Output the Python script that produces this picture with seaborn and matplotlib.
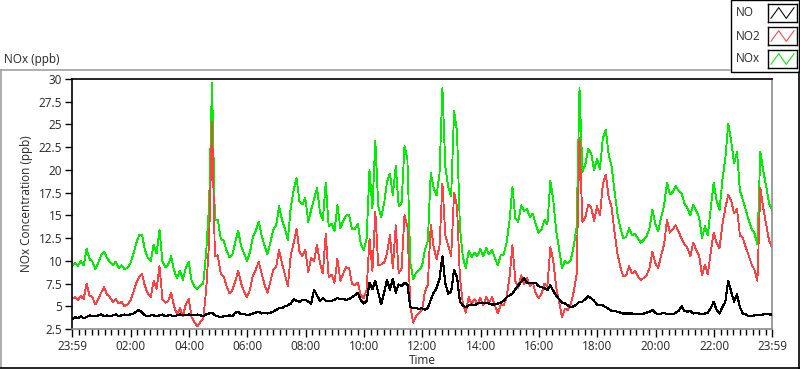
import numpy as np
import pandas as pd
import seaborn as sns
import matplotlib
matplotlib.use("Agg")
from matplotlib import pyplot as plt
from matplotlib.lines import Line2D
from matplotlib.patches import Rectangle

# sample times, minutes after 23:59 (one reading every 6 minutes)
minutes = np.arange(0, 1441, 6)

no2_ppb = [
    5.8, 6.0, 5.7, 6.1, 5.8, 7.5, 6.2, 6.0, 5.2, 5.8, 6.5, 7.1, 6.3, 6.0, 5.5, 5.8, 5.3, 5.5, 5.0, 5.2,
    5.6, 6.5, 7.5, 8.2, 8.6, 7.2, 6.4, 6.0, 7.8, 6.9, 9.4, 5.8, 5.4, 5.6, 6.5, 5.0, 4.1, 4.8, 3.9, 5.2, 5.8,
    3.8, 3.2, 2.8, 3.3, 3.6, 6.8, 12.0, 25.3, 10.5, 10.6, 8.6, 8.3, 7.2, 6.4, 6.8, 7.8, 8.9, 7.5, 6.6, 6.0,
    6.8, 8.4, 9.0, 9.9, 8.6, 7.4, 6.5, 7.7, 9.0, 9.3, 11.2, 9.7, 8.5, 7.2, 10.6, 12.0, 13.5, 11.0, 10.5, 11.2,
    8.8, 10.3, 10.0, 11.8, 9.8, 8.6, 13.0, 8.2, 8.5, 7.6, 10.2, 7.8, 8.6, 9.3, 9.2, 7.5, 7.3, 7.6, 6.2, 5.9,
    6.8, 12.4, 8.9, 15.4, 9.5, 9.6, 9.8, 10.8, 12.8, 9.2, 13.9, 8.6, 9.2, 15.0, 13.8, 4.9, 3.2, 3.9, 4.3, 4.6,
    6.6, 7.4, 14.0, 11.5, 10.2, 11.6, 18.5, 12.8, 11.7, 10.5, 17.5, 16.0, 8.2, 5.3, 4.3, 6.0, 5.2, 5.8, 5.2, 5.9,
    5.1, 6.0, 5.4, 6.0, 5.1, 4.2, 5.2, 5.1, 6.0, 8.2, 11.7, 7.8, 7.0, 8.4, 7.4, 8.1, 7.2, 7.6, 6.4,
    5.9, 6.4, 7.5, 7.2, 11.5, 10.0, 7.1, 5.5, 3.8, 4.7, 4.6, 5.2, 6.6, 8.5, 23.5, 14.3, 14.8, 16.2, 15.9, 14.4,
    16.0, 15.0, 18.4, 19.5, 17.0, 15.9, 13.2, 10.8, 9.3, 8.3, 8.4, 9.4, 8.6, 8.9, 8.3, 7.9, 8.1, 8.4, 9.2, 11.0,
    9.7, 9.2, 10.6, 11.8, 14.5, 13.1, 13.5, 13.9, 13.2, 12.4, 11.8, 11.4, 10.5, 12.0, 11.2, 10.6, 8.4, 9.6, 8.5, 11.0,
    13.1, 12.0, 11.4, 14.0, 15.8, 17.3, 16.6, 15.2, 15.7, 12.8, 12.5, 11.5, 10.6, 9.6, 9.0, 7.8, 18.0, 15.8, 14.0, 12.2, 11.5,
]

no_ppb = [
    3.6, 3.8, 3.7, 3.9, 3.7, 3.8, 4.0, 3.9, 3.9, 4.0, 4.1, 3.9, 4.0, 3.9, 4.0, 4.1, 3.9, 4.0, 4.1, 4.0,
    4.1, 4.2, 4.4, 4.6, 4.3, 4.0, 3.9, 4.0, 4.0, 3.9, 4.0, 4.1, 3.9, 4.0, 4.0, 3.9, 4.0, 4.1, 4.0, 4.0, 4.1,
    4.0, 4.0, 4.1, 4.0, 3.9, 4.1, 4.2, 4.3, 4.0, 3.9, 3.8, 3.9, 3.9, 4.0, 3.9, 4.3, 4.4, 4.1, 4.2, 4.0,
    4.1, 4.2, 4.3, 4.4, 4.2, 4.3, 4.2, 4.3, 4.4, 4.6, 4.8, 4.8, 5.0, 5.1, 5.3, 5.8, 5.6, 5.5, 5.7, 5.7,
    5.5, 5.3, 6.8, 6.2, 5.6, 5.9, 5.6, 5.6, 5.6, 5.7, 5.9, 5.8, 5.8, 5.7, 5.8, 6.0, 6.2, 6.5, 5.7, 5.3,
    5.6, 7.6, 6.9, 7.8, 6.5, 5.2, 6.5, 7.9, 6.8, 8.0, 6.5, 7.4, 7.2, 7.6, 7.4, 4.9, 4.8, 4.8, 4.7, 4.8,
    4.6, 4.8, 5.7, 6.5, 7.0, 8.0, 10.5, 7.5, 6.4, 6.6, 9.0, 8.2, 5.5, 5.1, 4.9, 5.1, 5.2, 5.1, 5.3, 5.4,
    5.4, 5.4, 5.3, 5.2, 5.2, 5.3, 5.4, 5.6, 6.0, 6.2, 6.4, 6.9, 7.3, 7.7, 8.1, 7.6, 7.6, 7.6, 7.6,
    7.2, 7.1, 7.0, 6.8, 7.3, 6.7, 6.2, 5.8, 5.4, 5.3, 5.1, 4.9, 5.0, 5.2, 5.5, 5.5, 5.8, 6.1, 5.9, 5.6,
    5.2, 5.1, 5.1, 4.9, 4.7, 4.5, 4.5, 4.4, 4.3, 4.2, 4.2, 4.2, 4.2, 4.1, 4.2, 4.1, 4.2, 4.3, 4.4, 4.6,
    4.3, 4.1, 4.2, 4.3, 4.1, 4.2, 4.1, 4.3, 4.5, 5.0, 4.5, 4.4, 4.5, 4.2, 4.3, 4.2, 4.1, 4.2, 4.3, 4.8,
    5.5, 4.6, 4.2, 4.9, 5.5, 7.8, 6.6, 5.5, 6.3, 4.9, 4.2, 4.1, 3.9, 3.9, 4.0, 4.0, 4.0, 4.1, 4.2, 4.1, 4.1,
]

x_tick_labels = ["23:59", "02:00", "04:00", "06:00", "08:00", "10:00", "12:00",
                 "14:00", "16:00", "18:00", "20:00", "22:00", "23:59"]
y_ticks = np.arange(2.5, 30.01, 2.5)

df = pd.DataFrame({"t": minutes, "NO": no_ppb, "NO2": no2_ppb})
df["NOx"] = df["NO"] + df["NO2"]

series_colors = {"NO": "#000000", "NO2": "#ff4040", "NOx": "#00ee00"}

sns.set_style("white")
plt.rcParams["font.family"] = ["Open Sans", "DejaVu Sans"]
plt.rcParams["font.size"] = 8

W, H = 800, 369
fig = plt.figure(figsize=(W / 100, H / 100), dpi=100)
fig.patch.set_facecolor("white")

ax = fig.add_axes([72 / W, 1 - 329 / H, 700 / W, 250 / H])
for name, z, w in [("NOx", 1, 0.6), ("NO2", 2, 0.6), ("NO", 3, 0.8)]:
    sns.lineplot(data=df, x="t", y=name, color=series_colors[name], lw=w,
                 ax=ax, zorder=z, legend=False, antialiased=False)

ax.set_xlim(0, 1440)
ax.set_ylim(2.5, 30)

major_x = [0] + [121 + 120 * i for i in range(11)] + [1440]
minor_x = []
for a, b in zip(major_x[:-1], major_x[1:]):
    minor_x.extend(np.linspace(a, b, 10)[1:-1])
ax.set_xticks(major_x)
ax.set_xticklabels(x_tick_labels)
ax.set_xticks(minor_x, minor=True)
ax.set_yticks(y_ticks)
ax.set_yticklabels(["{:g}".format(v) for v in y_ticks])

ax.tick_params(axis="x", which="major", direction="out", length=6, width=1,
               color="black", pad=2, labelsize=8.5)
ax.tick_params(axis="x", which="minor", direction="out", length=4, width=1,
               color="black")
ax.tick_params(axis="y", which="major", direction="out", length=5, width=1,
               color="black", pad=2, labelsize=8.5)
ax.tick_params(bottom=True, left=True, which="both")

ax.spines["left"].set_color("black")
ax.spines["top"].set_color("black")
ax.spines["bottom"].set_color("#8c8c8c")
ax.spines["right"].set_color("#8c8c8c")
for s in ax.spines.values():
    s.set_linewidth(1.2)

ax.set_xlabel("Time", fontsize=8.5, labelpad=1)
ax.set_ylabel("NOx Concentration (ppb)", fontsize=8.5, labelpad=4)

fig.text(4 / W, 1 - 60 / H, "NOx (ppb)", fontsize=8.5, va="center", ha="left")

# outer frame
fig.add_artist(Line2D([0, 730 / W], [1 - 69.5 / H] * 2, transform=fig.transFigure,
                      color="#a0a0a0", lw=1.2))
fig.add_artist(Line2D([1 / W] * 2, [1 - 69.5 / H, 1 - 367 / H], transform=fig.transFigure,
                      color="#a0a0a0", lw=1.2))
fig.add_artist(Line2D([0, 1], [1 - 367.5 / H] * 2, transform=fig.transFigure,
                      color="black", lw=1.2))
fig.add_artist(Line2D([799.3 / W] * 2, [0, 1 - 72 / H], transform=fig.transFigure,
                      color="black", lw=1.2))

# legend box
fig.add_artist(Rectangle((730.5 / W, 1 - 71.5 / H), 68.8 / W, 71 / H,
                         transform=fig.transFigure, facecolor="white",
                         edgecolor="black", lw=1.0, zorder=1))
for i, name in enumerate(["NO", "NO2", "NOx"]):
    yc = 13 + 23 * i
    fig.text(736 / W, 1 - yc / H, name, fontsize=8.5, va="center", ha="left")
    lax = fig.add_axes([768 / W, 1 - (yc + 9) / H, 29 / W, 18 / H])
    lax.set_zorder(5)
    lax.plot([0.1, 0.37, 0.63, 0.9], [0.2, 0.8, 0.2, 0.8],
             color=series_colors[name], lw=0.75)
    lax.set_xlim(0, 1)
    lax.set_ylim(0, 1)
    lax.set_xticks([])
    lax.set_yticks([])
    for s in lax.spines.values():
        s.set_color("black")
        s.set_linewidth(1.0)

fig.savefig("out.png", dpi=100)
